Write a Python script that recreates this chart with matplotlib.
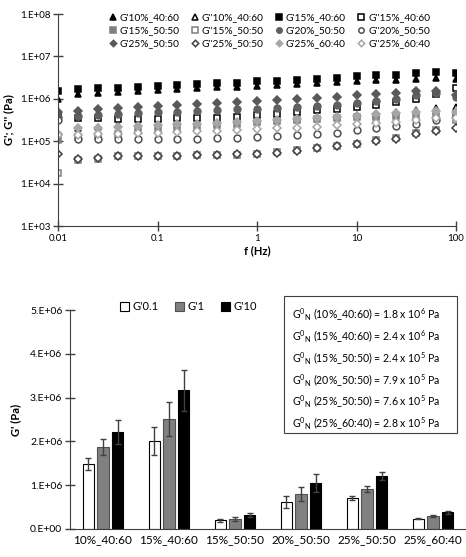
import numpy as np
import matplotlib
matplotlib.use("Agg")
import matplotlib.pyplot as plt
from matplotlib.ticker import FuncFormatter, FixedLocator, NullLocator
from matplotlib.patches import Rectangle

plt.rcParams['font.family'] = ['Lato', 'DejaVu Sans']
plt.rcParams['mathtext.fontset'] = 'custom'
plt.rcParams['mathtext.rm'] = 'Lato'
plt.rcParams['mathtext.it'] = 'Lato'

# frequency sweep (Hz)
freq = [0.01, 0.0158, 0.0251, 0.0398, 0.0631, 0.1, 0.158, 0.251, 0.398, 0.631,
        1, 1.58, 2.51, 3.98, 6.31, 10, 15.8, 25.1, 39.8, 63.1, 100]

gp_10_4060 = [1.0e6, 1.3e6, 1.4e6, 1.45e6, 1.55e6, 1.6e6, 1.68e6, 1.8e6, 1.88e6, 1.95e6,
              2.05e6, 2.15e6, 2.25e6, 2.35e6, 2.45e6, 2.6e6, 2.75e6, 2.85e6, 3.0e6, 3.1e6, 3.0e6]
gpp_10_4060 = [4.8e5, 2.0e5, 2.2e5, 2.4e5, 2.6e5, 2.7e5, 2.8e5, 2.9e5, 3.0e5, 3.1e5,
               3.2e5, 3.3e5, 3.5e5, 3.7e5, 3.9e5, 4.2e5, 4.5e5, 4.9e5, 5.3e5, 6.2e5, 6.5e5]
gp_15_4060 = [1.54e6, 1.66e6, 1.75e6, 1.81e6, 1.91e6, 1.98e6, 2.06e6, 2.21e6, 2.3e6, 2.42e6,
              2.56e6, 2.7e6, 2.85e6, 2.96e6, 3.12e6, 3.36e6, 3.55e6, 3.68e6, 4.03e6, 4.26e6, 4.1e6]
gpp_15_4060 = [3.7e5, 3.5e5, 3.5e5, 3.4e5, 3.4e5, 3.4e5, 3.5e5, 3.5e5, 3.6e5, 3.8e5,
               4.1e5, 4.4e5, 4.8e5, 5.3e5, 5.9e5, 6.5e5, 7.3e5, 8.5e5, 1.0e6, 1.33e6, 1.8e6]
gp_15_5050 = [1.05e5, 1.26e5, 1.35e5, 1.5e5, 1.7e5, 1.9e5, 2.05e5, 2.2e5, 2.4e5, 2.6e5,
              2.85e5, 3.0e5, 3.1e5, 3.25e5, 3.45e5, 3.7e5, 3.8e5, 3.9e5, 4.0e5, 4.0e5, 4.3e5]
gpp_15_5050 = [1.8e4, 3.7e4, 3.9e4, 4.4e4, 4.4e4, 4.4e4, 4.4e4, 4.6e4, 4.6e4, 4.8e4,
               5.1e4, 5.5e4, 6.1e4, 6.9e4, 7.9e4, 8.7e4, 1.04e5, 1.2e5, 1.6e5, 1.8e5, 3.1e5]
gp_20_5050 = [3.8e5, 4.0e5, 4.2e5, 4.4e5, 4.6e5, 4.8e5, 5.0e5, 5.2e5, 5.4e5, 5.6e5,
              5.9e5, 6.2e5, 6.5e5, 6.9e5, 7.3e5, 8.0e5, 8.8e5, 1.0e6, 1.2e6, 1.35e6, 1.1e6]
gpp_20_5050 = [3.2e5, 1.1e5, 1.1e5, 1.1e5, 1.1e5, 1.1e5, 1.15e5, 1.15e5, 1.2e5, 1.2e5,
               1.25e5, 1.3e5, 1.4e5, 1.5e5, 1.6e5, 1.8e5, 2.0e5, 2.3e5, 2.6e5, 3.2e5, 4.0e5]
gp_25_5050 = [4.8e5, 5.2e5, 5.6e5, 6.0e5, 6.4e5, 6.8e5, 7.2e5, 7.6e5, 8.0e5, 8.4e5,
              9.0e5, 9.5e5, 1.0e6, 1.05e6, 1.1e6, 1.2e6, 1.3e6, 1.4e6, 1.5e6, 1.5e6, 1.2e6]
gpp_25_5050 = [4.9e4, 3.9e4, 4.0e4, 4.4e4, 4.4e4, 4.4e4, 4.5e4, 4.6e4, 4.7e4, 4.9e4,
               5.1e4, 5.4e4, 6.0e4, 6.8e4, 7.7e4, 8.5e4, 1.0e5, 1.15e5, 1.5e5, 1.7e5, 2.0e5]
gp_25_6040 = [1.5e5, 2.0e5, 2.1e5, 2.2e5, 2.3e5, 2.4e5, 2.5e5, 2.6e5, 2.7e5, 2.9e5,
              3.0e5, 3.2e5, 3.3e5, 3.5e5, 3.7e5, 4.0e5, 4.3e5, 4.6e5, 5.0e5, 5.2e5, 5.0e5]
gpp_25_6040 = [1.4e5, 1.4e5, 1.45e5, 1.5e5, 1.55e5, 1.6e5, 1.65e5, 1.7e5, 1.75e5, 1.8e5,
               1.9e5, 2.0e5, 2.1e5, 2.2e5, 2.35e5, 2.5e5, 2.7e5, 2.9e5, 3.2e5, 3.5e5, 3.5e5]

# bar chart
samples = ['10%_40:60', '15%_40:60', '15%_50:50', '20%_50:50', '25%_50:50', '25%_60:40']
g_01 = [1.48e6, 2.01e6, 0.196e6, 0.615e6, 0.705e6, 0.235e6]
g_01_err = [0.14e6, 0.33e6, 0.025e6, 0.13e6, 0.05e6, 0.01e6]
g_1 = [1.88e6, 2.51e6, 0.235e6, 0.80e6, 0.92e6, 0.30e6]
g_1_err = [0.18e6, 0.38e6, 0.05e6, 0.17e6, 0.07e6, 0.03e6]
g_10 = [2.22e6, 3.17e6, 0.326e6, 1.05e6, 1.21e6, 0.38e6]
g_10_err = [0.27e6, 0.47e6, 0.05e6, 0.21e6, 0.10e6, 0.04e6]

plateau = ['G$^{0}$$_{\\rm N}$ (10%_40:60) = 1.8 x 10$^{6}$ Pa',
           'G$^{0}$$_{\\rm N}$ (15%_40:60) = 2.4 x 10$^{6}$ Pa',
           'G$^{0}$$_{\\rm N}$ (15%_50:50) = 2.4 x 10$^{5}$ Pa',
           'G$^{0}$$_{\\rm N}$ (20%_50:50) = 7.9 x 10$^{5}$ Pa',
           'G$^{0}$$_{\\rm N}$ (25%_50:50) = 7.6 x 10$^{5}$ Pa',
           'G$^{0}$$_{\\rm N}$ (25%_60:40) = 2.8 x 10$^{5}$ Pa']

axcol = '#404040'
W, H = 466, 557
fig = plt.figure(figsize=(W / 100, H / 100), dpi=100)

# ---------- top: frequency sweep ----------
ax1 = fig.add_axes([58/W, 1-226/H, 398/W, 212/H])
series = [
    ("G'10%_40:60", gp_10_4060, '^', 'black', 'black'),
    ("G''10%_40:60", gpp_10_4060, '^', 'white', 'black'),
    ("G'15%_40:60", gp_15_4060, 's', 'black', 'black'),
    ("G''15%_40:60", gpp_15_4060, 's', 'white', 'black'),
    ("G'15%_50:50", gp_15_5050, 's', '#7f7f7f', '#7f7f7f'),
    ("G''15%_50:50", gpp_15_5050, 's', 'white', '#7f7f7f'),
    ("G'20%_50:50", gp_20_5050, 'o', '#606060', '#606060'),
    ("G''20%_50:50", gpp_20_5050, 'o', 'white', '#505050'),
    ("G'25%_50:50", gp_25_5050, 'D', '#595959', '#595959'),
    ("G''25%_50:50", gpp_25_5050, 'D', 'white', '#404040'),
    ("G'25%_60:40", gp_25_6040, 'D', '#a6a6a6', '#a6a6a6'),
    ("G''25%_60:40", gpp_25_6040, 'D', 'white', '#a6a6a6'),
]
handles = []
for name, vals, mk, fc, ec in series:
    ms = 4.9 if mk != 'D' else 4.1
    h, = ax1.plot(freq, vals, linestyle='none', marker=mk, markersize=ms,
                  markerfacecolor=fc, markeredgecolor=ec, markeredgewidth=1.1, label=name)
    handles.append(h)

ax1.set_xscale('log')
ax1.set_yscale('log')
ax1.set_xlim(0.01, 100)
ax1.set_ylim(1e3, 1e8)
ax1.yaxis.set_major_locator(FixedLocator([1e3, 1e4, 1e5, 1e6, 1e7, 1e8]))
ax1.yaxis.set_minor_locator(NullLocator())
ax1.xaxis.set_minor_locator(NullLocator())
ax1.yaxis.set_major_formatter(FuncFormatter(lambda v, p: '1.E+%02d' % round(np.log10(v))))
ax1.xaxis.set_major_locator(FixedLocator([0.01, 0.1, 1, 10, 100]))
ax1.xaxis.set_major_formatter(FuncFormatter(lambda v, p: '%g' % v))
for s in ['top', 'right']:
    ax1.spines[s].set_visible(False)
for s in ['left', 'bottom']:
    ax1.spines[s].set_color(axcol)
ax1.tick_params(direction='inout', length=7, width=1, color=axcol, labelsize=7, pad=2)
ax1.set_xlabel('f (Hz)', fontsize=8, fontweight='bold', labelpad=2)
ax1.set_ylabel("G'; G'' (Pa)", fontsize=8, fontweight='bold', labelpad=4)

order = [r*4 + c for c in range(4) for r in range(3)]
fig.legend([handles[i] for i in order], [handles[i].get_label() for i in order],
           ncol=4, loc='upper center', bbox_to_anchor=(268/W, 1-4/H), frameon=False,
           fontsize=7.3, handletextpad=0.0, columnspacing=0.9, labelspacing=0.4,
           handlelength=1.3, markerscale=0.8)

# ---------- bottom: G' at 0.1, 1, 10 Hz ----------
ax2 = fig.add_axes([70/W, 1-529/H, 396/W, 219/H])
x = np.arange(len(samples))
w = 0.18
ekw = dict(ecolor='#404040', elinewidth=1, capsize=2.5, capthick=1)
ax2.bar(x - 0.22, g_01, w, yerr=g_01_err, color='white', edgecolor='black', linewidth=0.8,
        error_kw=ekw, label="G'0.1")
ax2.bar(x, g_1, w, yerr=g_1_err, color='#808080', edgecolor='#505050', linewidth=0.8,
        error_kw=ekw, label="G'1")
ax2.bar(x + 0.22, g_10, w, yerr=g_10_err, color='black', edgecolor='black', linewidth=0.8,
        error_kw=ekw, label="G'10")
ax2.set_xlim(-0.5, len(samples) - 0.5)
ax2.set_ylim(0, 5e6)
ax2.set_yticks([0, 1e6, 2e6, 3e6, 4e6, 5e6])
ax2.yaxis.set_major_formatter(FuncFormatter(
    lambda v, p: '%d.E+%02d' % ((v / 1e6, 6) if v else (0, 0))))
ax2.set_xticks(x)
ax2.set_xticklabels(samples)
for s in ['top', 'right']:
    ax2.spines[s].set_visible(False)
for s in ['left', 'bottom']:
    ax2.spines[s].set_color(axcol)
ax2.tick_params(axis='y', direction='inout', length=7, width=1, color=axcol, labelsize=7.5, pad=2)
ax2.tick_params(axis='x', length=0, labelsize=8.5, pad=4)
ax2.set_ylabel("G' (Pa)", fontsize=8, fontweight='bold', labelpad=6)
ax2.legend(ncol=3, loc='center left', bbox_to_anchor=(40/396, 1.015), frameon=False, fontsize=8,
           handlelength=0.8, handleheight=0.8, handletextpad=0.3, columnspacing=1.5)

# plateau modulus box
fig.add_artist(Rectangle((284/W, 1-433/H), 173/W, 137/H, transform=fig.transFigure,
                         facecolor='white', edgecolor='#404040', linewidth=0.8))
for i, line in enumerate(plateau):
    fig.text(292/W, 1-(315 + 21.8 * i)/H, line, ha='left', va='center', fontsize=7.6)

fig.savefig('out.png', dpi=100)
